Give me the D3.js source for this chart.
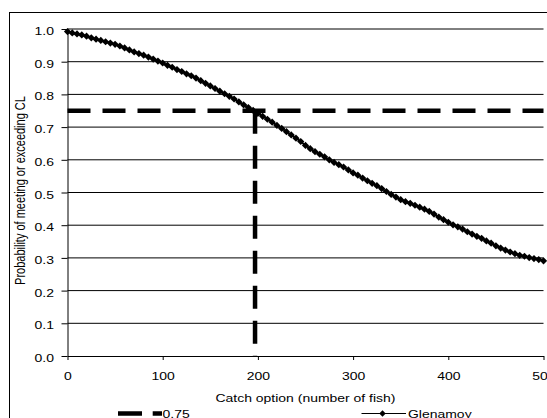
<!DOCTYPE html>
<html>
<head>
<meta charset="utf-8">
<script src="https://cdn.jsdelivr.net/npm/d3@7"></script>
<style>
  html, body { margin: 0; padding: 0; background: #fff; }
  svg text { font-family: "Liberation Sans", Arial, sans-serif; fill: #000; font-size: 11px; }
</style>
</head>
<body>
<svg id="chart" width="547" height="418"></svg>
<script>
// ---- data ----
const catchOptions = d3.range(0, 501, 5);
const glenamoy = [
  0.992, 0.988, 0.985, 0.982, 0.978, 0.973, 0.969, 0.965, 0.961, 0.957,
  0.953, 0.948, 0.942, 0.936, 0.930, 0.925, 0.920, 0.914, 0.908, 0.902,
  0.896, 0.889, 0.883, 0.876, 0.870, 0.863, 0.857, 0.850, 0.842, 0.834,
  0.826, 0.818, 0.810, 0.802, 0.794, 0.786, 0.777, 0.768, 0.760, 0.751,
  0.742, 0.733, 0.724, 0.715, 0.705, 0.696, 0.686, 0.676, 0.666, 0.656,
  0.644, 0.634, 0.625, 0.617, 0.609, 0.600, 0.592, 0.585, 0.578, 0.569,
  0.560, 0.553, 0.544, 0.536, 0.528, 0.521, 0.512, 0.503, 0.494, 0.486,
  0.478, 0.472, 0.467, 0.461, 0.455, 0.449, 0.442, 0.434, 0.425, 0.417,
  0.409, 0.401, 0.395, 0.388, 0.380, 0.373, 0.366, 0.360, 0.352, 0.345,
  0.337, 0.330, 0.324, 0.318, 0.313, 0.308, 0.305, 0.301, 0.298, 0.295,
  0.291
];
const targetProb = 0.75;
const targetCatch = 197;
const xTicks = [0, 100, 200, 300, 400, 500];
const yTicks = [0.0, 0.1, 0.2, 0.3, 0.4, 0.5, 0.6, 0.7, 0.8, 0.9, 1.0];
const xTitle = "Catch option (number of fish)";
const yTitle = "Probability of meeting or exceeding CL";
const legendLabels = ["0.75", "Glenamoy"];

// ---- layout ----
const svg = d3.select("#chart");
const pLeft = 67.5, pRight = 543.5, pTop = 29, pBottom = 356;
const SX = 1.27; // horizontal text stretch seen in the reference
const x = d3.scaleLinear().domain([0, 500]).range([pLeft, pRight]);
const y = d3.scaleLinear().domain([0, 1]).range([pBottom, pTop]);

// helper: place a horizontally-stretched text anchored at (ax, ay)
function stretchedText(g, ax, ay, str, anchor) {
  return g.append("text")
    .attr("transform", `translate(${ax},${ay}) scale(${SX},1)`)
    .attr("text-anchor", anchor || "start")
    .text(str);
}

// outer chart border
svg.append("rect").attr("x", 9.5).attr("y", 12.5).attr("width", 560).attr("height", 430)
  .attr("fill", "none").attr("stroke", "#000").attr("stroke-width", 1);

// gridlines
svg.append("g").selectAll("line").data(yTicks.filter(d => d > 0)).join("line")
  .attr("x1", pLeft).attr("x2", pRight)
  .attr("y1", d => y(d)).attr("y2", d => y(d))
  .attr("stroke", "#000").attr("stroke-width", 1);

// y axis
const yAxis = d3.axisLeft(y).tickValues(yTicks).tickFormat(d3.format(".1f"))
  .tickSize(6).tickSizeOuter(0);
const gy = svg.append("g").attr("transform", `translate(${pLeft},0)`).call(yAxis);
gy.select(".domain").attr("stroke", "#000");
gy.selectAll(".tick text").remove();
gy.selectAll(".tick").each(function(d) {
  stretchedText(d3.select(this), -13.5, 5.5, d3.format(".1f")(d), "end");
});

// x axis
const xAxis = d3.axisBottom(x).tickValues(xTicks).tickSize(4).tickSizeOuter(0);
const gx = svg.append("g").attr("transform", `translate(0,${pBottom})`).call(xAxis);
gx.select(".domain").attr("stroke", "#000");
gx.selectAll(".tick text").remove();
gx.selectAll(".tick").each(function(d) {
  stretchedText(d3.select(this), 0, 24, String(d), "middle");
});

// axis titles
stretchedText(svg, (pLeft + pRight) / 2, 401.5, xTitle, "middle");
svg.append("text")
  .attr("transform", `translate(25,${(pTop + pBottom) / 2 - 2}) scale(${SX},1) rotate(-90)`)
  .attr("text-anchor", "middle").text(yTitle);

// threshold dashed lines
const dashStyle = sel => sel.attr("stroke", "#000").attr("stroke-width", 4.5)
  .attr("stroke-dasharray", "23,12").attr("fill", "none");
svg.append("line").attr("x1", pLeft).attr("x2", pRight)
  .attr("y1", y(targetProb)).attr("y2", y(targetProb)).call(dashStyle);
svg.append("line").attr("x1", x(targetCatch)).attr("x2", x(targetCatch))
  .attr("y1", y(targetProb)).attr("y2", pBottom).call(dashStyle);

// series
const pts = catchOptions.map((c, i) => [c, glenamoy[i]]);
svg.append("path").datum(pts)
  .attr("d", d3.line().x(d => x(d[0])).y(d => y(d[1])))
  .attr("fill", "none").attr("stroke", "#000").attr("stroke-width", 2);
const diamond = "M0,-3.6L3.6,0L0,3.6L-3.6,0Z";
svg.append("g").selectAll("path").data(pts).join("path")
  .attr("d", diamond)
  .attr("transform", d => `translate(${x(d[0])},${y(d[1])})`)
  .attr("fill", "#000");

// legend
const ly = 413.5;
svg.append("line").attr("x1", 118).attr("x2", 162).attr("y1", ly).attr("y2", ly)
  .call(dashStyle).attr("stroke-dasharray", "24,10.7");
stretchedText(svg, 162.5, 418, legendLabels[0], "start");
svg.append("line").attr("x1", 361.5).attr("x2", 406).attr("y1", ly).attr("y2", ly)
  .attr("stroke", "#000").attr("stroke-width", 1);
svg.append("path").attr("d", "M0,-3.2L3.2,0L0,3.2L-3.2,0Z")
  .attr("transform", `translate(382.5,${ly})`).attr("fill", "#000");
stretchedText(svg, 408, 418, legendLabels[1], "start");
</script>
</body>
</html>
